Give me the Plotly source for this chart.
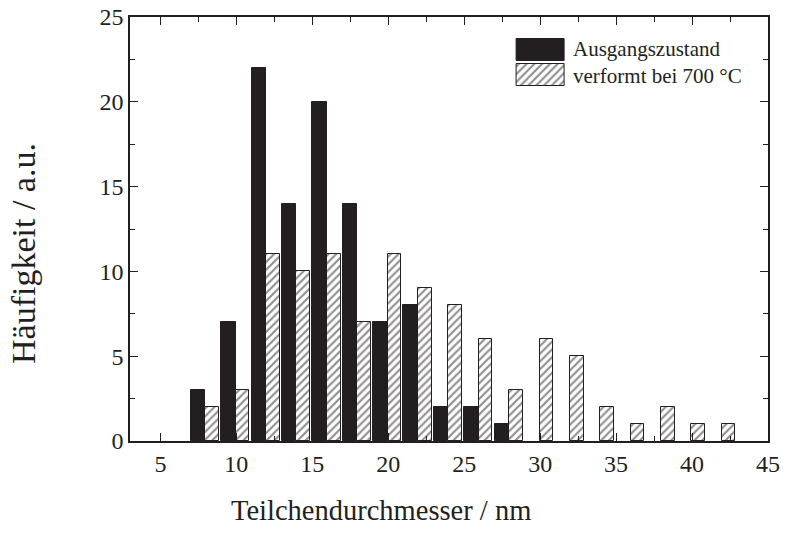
import plotly.graph_objects as go

# ---- data ----
bin_edges = [8, 10, 12, 14, 16, 18, 20, 22, 24, 26, 28, 30, 32, 34, 36, 38, 40, 42]
ausgang_counts = [3, 7, 22, 14, 20, 14, 7, 8, 2, 2, 1]
verformt_counts = [2, 3, 11, 10, 11, 7, 11, 9, 8, 6, 3, 6, 5, 2, 1, 2, 1, 1]
series_names = ["Ausgangszustand", "verformt bei 700 °C"]
x_title = "Teilchendurchmesser / nm"
y_title = "Häufigkeit / a.u."

FONT = "Liberation Serif"
BLACK = "#231f20"

W, H = 785, 534
L, R, T, B = 130, 17, 17, 93
PW, PH = W - L - R, H - T - B


def px_to_paper_x(px):
    return (px - L) / PW


def px_to_paper_y(py):
    return (H - B - py) / PH


hatch = dict(shape="/", fgcolor=BLACK, bgcolor="white", size=5.5, solidity=0.4)

fig = go.Figure()

fig.add_trace(go.Bar(
    x=bin_edges[:len(ausgang_counts)], y=ausgang_counts,
    offset=-1.0, width=0.96,
    marker=dict(color=BLACK, line=dict(color=BLACK, width=1)),
    name=series_names[0], showlegend=False,
))
fig.add_trace(go.Bar(
    x=bin_edges[:len(verformt_counts)], y=verformt_counts,
    offset=-0.04, width=0.9,
    marker=dict(color="white", line=dict(color=BLACK, width=1), pattern=hatch),
    name=series_names[1], showlegend=False,
))

# custom legend swatches on a small auxiliary axis pair
fig.add_trace(go.Bar(
    y=[1], x=[1], orientation="h", width=0.88, xaxis="x2", yaxis="y2",
    marker=dict(color=BLACK, line=dict(color=BLACK, width=1)),
    showlegend=False, hoverinfo="skip",
))
fig.add_trace(go.Bar(
    y=[0], x=[1], orientation="h", width=0.88, xaxis="x2", yaxis="y2",
    marker=dict(color="white", line=dict(color=BLACK, width=1), pattern=hatch),
    showlegend=False, hoverinfo="skip",
))

axis_common = dict(
    showline=True, linecolor=BLACK, linewidth=1.6, mirror="ticks",
    ticks="inside", ticklen=8, tickwidth=1.4, tickcolor=BLACK,
    showgrid=False, zeroline=False, automargin=False,
    tickfont=dict(family=FONT, size=24, color=BLACK),
)

fig.update_layout(
    width=W, height=H,
    margin=dict(l=L, r=R, t=T, b=B, autoexpand=False),
    paper_bgcolor="white", plot_bgcolor="white",
    barmode="overlay", bargap=0,
    xaxis=dict(range=[3, 45], tick0=5, dtick=5,
               minor=dict(dtick=2.5, tick0=5, ticks="inside", ticklen=5,
                          tickwidth=1.2, tickcolor=BLACK, showgrid=False),
               **axis_common),
    yaxis=dict(range=[0, 25], tick0=0, dtick=5,
               minor=dict(dtick=2.5, tick0=0, ticks="inside", ticklen=5,
                          tickwidth=1.2, tickcolor=BLACK, showgrid=False),
               **axis_common),
    xaxis2=dict(domain=[px_to_paper_x(514.6), px_to_paper_x(567.4)],
                range=[-0.05, 1.05], anchor="y2", visible=False, fixedrange=True),
    yaxis2=dict(domain=[px_to_paper_y(88), px_to_paper_y(37)],
                range=[-0.5, 1.5], anchor="x2", visible=False, fixedrange=True),
    font=dict(family=FONT, color=BLACK),
    annotations=[
        dict(text=x_title, xref="paper", yref="paper",
             x=px_to_paper_x(381), y=px_to_paper_y(511),
             xanchor="center", yanchor="middle", showarrow=False,
             font=dict(family=FONT, size=28.5, color=BLACK)),
        dict(text=y_title, xref="paper", yref="paper", textangle=-90,
             x=px_to_paper_x(23), y=px_to_paper_y(254),
             xanchor="center", yanchor="middle", showarrow=False,
             font=dict(family=FONT, size=34, color=BLACK)),
        dict(text=series_names[0], xref="paper", yref="paper",
             x=px_to_paper_x(571), y=px_to_paper_y(49),
             xanchor="left", yanchor="middle", showarrow=False,
             font=dict(family=FONT, size=21, color=BLACK)),
        dict(text=series_names[1], xref="paper", yref="paper",
             x=px_to_paper_x(571), y=px_to_paper_y(76),
             xanchor="left", yanchor="middle", showarrow=False,
             font=dict(family=FONT, size=21, color=BLACK)),
    ],
)

fig.write_html("out.html",
               config={"displayModeBar": False},
               post_script="document.body.style.margin='0';"
                           "document.body.style.padding='0';")
